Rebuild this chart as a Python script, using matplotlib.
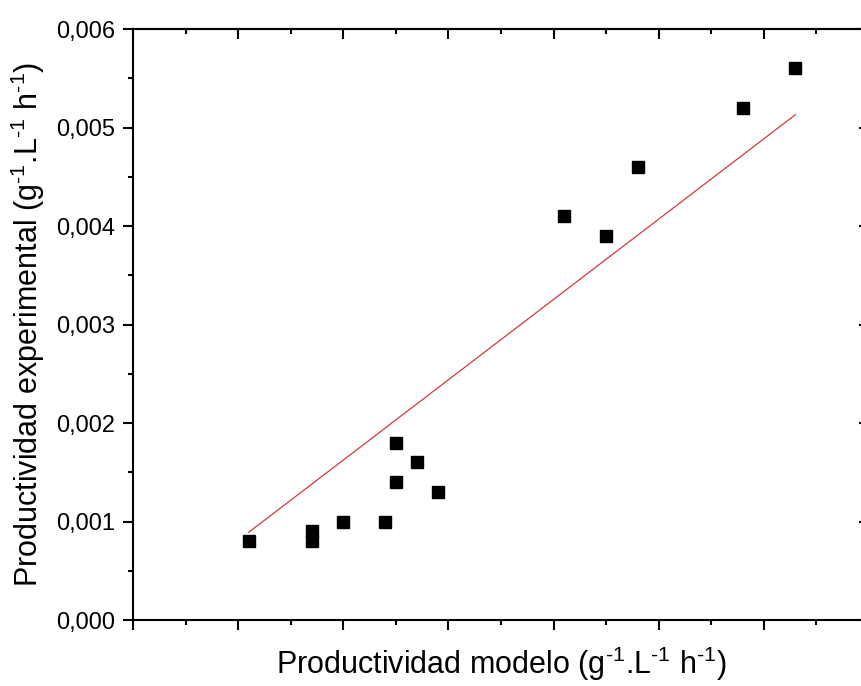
import numpy as np
import matplotlib
matplotlib.use("Agg")
import matplotlib.pyplot as plt
from matplotlib.ticker import MultipleLocator, FuncFormatter, NullFormatter

plt.rcParams['font.family'] = ['Liberation Sans', 'DejaVu Sans']
plt.rcParams['mathtext.fontset'] = 'custom'
plt.rcParams['mathtext.rm'] = 'Liberation Sans'
plt.rcParams['mathtext.default'] = 'regular'

# model vs experimental productivity
prod_modelo = [0.0011, 0.0017, 0.0017, 0.0020, 0.0024, 0.0025, 0.0025,
               0.0027, 0.0029, 0.0041, 0.0045, 0.0048, 0.0058, 0.0063]
prod_experimental = [0.0008, 0.0009, 0.0008, 0.0010, 0.0010, 0.0018, 0.0014,
                     0.0016, 0.0013, 0.0041, 0.0039, 0.0046, 0.0052, 0.0056]

# fitted line endpoints
ajuste_x = [0.0011, 0.0063]
ajuste_y = [0.00089, 0.00513]

unidades = r'(g$^{\text{-}1}$.L$^{\text{-}1}$ h$^{\text{-}1}$)'

fig = plt.figure(figsize=(8.62, 6.86), dpi=100)
ax = fig.add_axes([0.1543, 0.0962, 0.8538, 0.8615])

ax.plot(ajuste_x, ajuste_y, color='#d03a3a', lw=0.9, zorder=2)
ax.plot(prod_modelo, prod_experimental, ls='none', marker='s', ms=9,
        color='black', zorder=3)

ax.set_xlim(0, 0.007)
ax.set_ylim(0, 0.006)

ax.xaxis.set_major_locator(MultipleLocator(0.001))
ax.xaxis.set_minor_locator(MultipleLocator(0.0005))
ax.xaxis.set_major_formatter(NullFormatter())
ax.yaxis.set_major_locator(MultipleLocator(0.001))
ax.yaxis.set_minor_locator(MultipleLocator(0.0005))
ax.yaxis.set_major_formatter(FuncFormatter(lambda v, p: f"{v:.3f}".replace('.', ',')))

for s in ax.spines.values():
    s.set_linewidth(1.5)

ax.tick_params(which='both', width=1.5, labelsize=17, pad=6)
ax.tick_params(which='major', length=7)
ax.tick_params(which='minor', length=3.5)
ax.tick_params(axis='x', which='both', direction='out', top=False)
ax.tick_params(axis='y', which='both', direction='out', right=False)

# inward ticks on the opposite sides
ax2 = ax.secondary_xaxis('top')
ax2.xaxis.set_major_locator(MultipleLocator(0.001))
ax2.xaxis.set_minor_locator(MultipleLocator(0.0005))
ax2.xaxis.set_major_formatter(NullFormatter())
ax2.tick_params(which='both', direction='in', width=1.5)
ax2.tick_params(which='major', length=7)
ax2.tick_params(which='minor', length=3.5)
ax2.spines['top'].set_linewidth(1.5)

ax3 = ax.secondary_yaxis('right')
ax3.yaxis.set_major_locator(MultipleLocator(0.001))
ax3.yaxis.set_minor_locator(MultipleLocator(0.0005))
ax3.yaxis.set_major_formatter(NullFormatter())
ax3.tick_params(which='both', direction='in', width=1.5)
ax3.tick_params(which='major', length=7)
ax3.tick_params(which='minor', length=3.5)
ax3.spines['right'].set_linewidth(1.5)

ax.set_xlabel('Productividad modelo ' + unidades, fontsize=22, labelpad=5)
ax.set_ylabel('Productividad experimental ' + unidades, fontsize=22, labelpad=6)

fig.savefig('out.png', dpi=100)
